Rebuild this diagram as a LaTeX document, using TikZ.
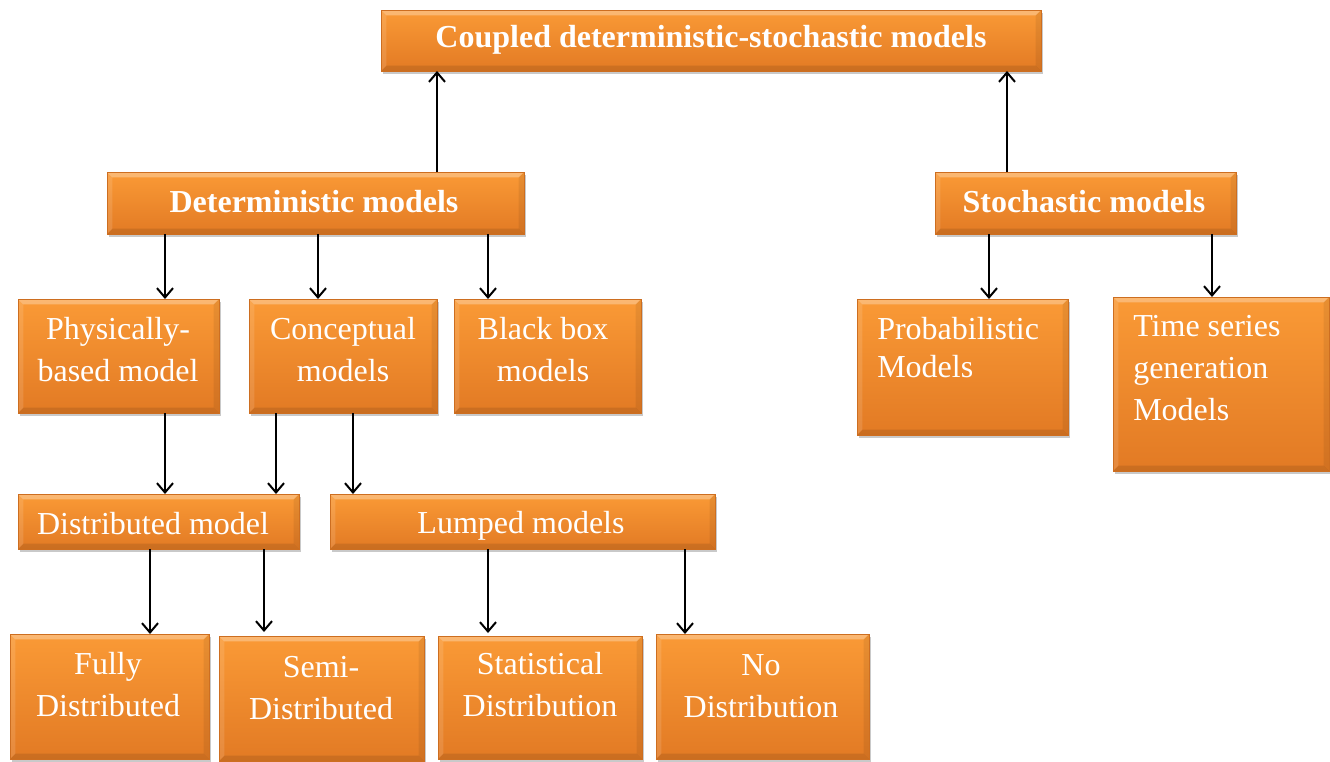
\documentclass[tikz,border=0pt]{standalone}
\usepackage{fontspec}
\setmainfont{Liberation Serif}
\usetikzlibrary{arrows.meta,shadows,calc}
\definecolor{boxtop}{RGB}{250,154,54}
\definecolor{boxbot}{RGB}{226,122,36}
\definecolor{boxline}{RGB}{205,110,32}
% bevelled edges drawn inside every box
\newcommand\bevelfx{%
  \path (path picture bounding box.north west) coordinate (bvA)
        (path picture bounding box.south east) coordinate (bvB);
  \fill[white,opacity=0.30] (bvA) -- (bvA -| bvB) -- ($(bvA -| bvB)+(-4pt,-4pt)$) -- ($(bvA)+(4pt,-4pt)$) -- cycle;
  \fill[white,opacity=0.12] (bvA) -- ($(bvA)+(4pt,-4pt)$) -- ($(bvA |- bvB)+(4pt,4pt)$) -- (bvA |- bvB) -- cycle;
  \fill[black,opacity=0.07] (bvB) -- (bvB |- bvA) -- ($(bvB |- bvA)+(-4pt,-4pt)$) -- ($(bvB)+(-4pt,4pt)$) -- cycle;
  \fill[black,opacity=0.10] (bvB) -- (bvA |- bvB) -- ($(bvA |- bvB)+(4pt,4pt)$) -- ($(bvB)+(-4pt,4pt)$) -- cycle;
}
\tikzset{
  box/.style={draw=boxline, line width=0.4pt, top color=boxtop, bottom color=boxbot,
    inner sep=0pt, outer sep=0pt,
    drop shadow={shadow xshift=1.5pt, shadow yshift=-2.5pt, opacity=0.3, fill=black!70},
    path picture={\bevelfx}},
  txt/.style={text=white, font=\fontsize{24}{31.5}\selectfont, align=center, inner sep=0pt},
  ltxt/.style={txt, align=left, anchor=north west},
  btxt/.style={txt, font=\fontsize{24}{28}\selectfont\bfseries},
  arr/.style={line width=1.5pt, -{Straight Barb[length=7pt,width=12pt,line width=1.5pt]}}
}
% box from (x1,y1) to (x2,y2), in pixel units with y pointing down
\newcommand\placebox[5]{%
  \node[box, minimum width={(#4-#2)*0.75pt}, minimum height={(#5-#3)*0.75pt}]
    (#1) at ({(#2+#4)/2},{(#3+#5)/2}) {};}
\begin{document}
\begin{tikzpicture}[x=0.75pt, y=-0.75pt]
\useasboundingbox (0,0) rectangle (1330,761);

% boxes
\placebox{top}{381}{10}{1041}{71}
\placebox{det}{107}{172}{524}{234}
\placebox{sto}{935}{172}{1236}{234}
\placebox{phys}{18}{299}{219}{413}
\placebox{conc}{249}{299}{437}{413}
\placebox{bbox}{454}{299}{641}{413}
\placebox{prob}{857}{299}{1068}{435}
\placebox{tser}{1113}{297}{1329}{471}
\placebox{dist}{18}{494}{299}{549}
\placebox{lump}{330}{494}{715}{549}
\placebox{full}{10}{634}{209}{759}
\placebox{semi}{219}{636}{424}{761}
\placebox{stat}{438}{636}{642}{759}
\placebox{nodi}{656}{634}{869}{759}

% labels
\node[btxt] (ttop) at (711,40) {Coupled deterministic-stochastic models};
\node[btxt] (tdet) at (314,202) {Deterministic models};
\node[btxt] (tsto) at (1084,202) {Stochastic models};
\node[txt] (tphys) at (118,350) {Physically-\\based model};
\node[txt] (tconc) at (343,350) {Conceptual\\models};
\node[txt] (tbbox) at (543,350) {Black box\\models};
\node[ltxt, font=\fontsize{24}{28.5}\selectfont] (tprob) at (877,317) {Probabilistic\\Models};
\node[ltxt] (ttser) at (1133,315) {Time series\\generation\\Models};
\node[txt] (tdist) at (153,524) {Distributed model};
\node[txt] (tlump) at (521,526) {Lumped models};
\node[txt] (tfull) at (108,685) {Fully\\Distributed};
\node[txt] (tsemi) at (321,688) {Semi-\\Distributed};
\node[txt] (tstat) at (540,685) {Statistical\\Distribution};
\node[txt] (tnodi) at (761,686) {No\\Distribution};

% connectors
\draw[arr] (437,0 |- det.north) -- (437,0 |- top.south);
\draw[arr] (1007,0 |- sto.north) -- (1007,0 |- top.south);
\draw[arr] (165,0 |- det.south) -- (165,0 |- phys.north);
\draw[arr] (318,0 |- det.south) -- (318,0 |- conc.north);
\draw[arr] (488,0 |- det.south) -- (488,0 |- bbox.north);
\draw[arr] (989,0 |- sto.south) -- (989,0 |- prob.north);
\draw[arr] (1212,0 |- sto.south) -- (1212,0 |- tser.north);
\draw[arr] (165,0 |- phys.south) -- (165,0 |- dist.north);
\draw[arr] (276,0 |- conc.south) -- (276,0 |- dist.north);
\draw[arr] (353,0 |- conc.south) -- (353,0 |- lump.north);
\draw[arr] (150,0 |- dist.south) -- (150,0 |- full.north);
\draw[arr] (264,0 |- dist.south) -- ($(264,0 |- semi.north)+(0,-4)$);
\draw[arr] (488,0 |- lump.south) -- ($(488,0 |- stat.north)+(0,-3)$);
\draw[arr] (685,0 |- lump.south) -- (685,0 |- nodi.north);
\end{tikzpicture}
\end{document}
